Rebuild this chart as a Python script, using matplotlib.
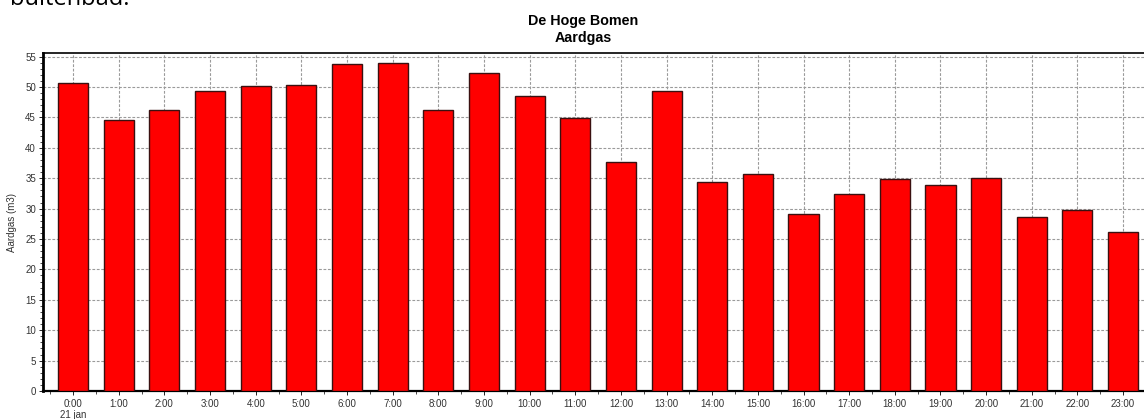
import matplotlib
matplotlib.use('Agg')
import matplotlib.pyplot as plt
from matplotlib.ticker import MultipleLocator

# hourly gas usage
hours = [f'{h}:00' for h in range(24)]
usage = [50.7, 44.6, 46.3, 49.4, 50.2, 50.3, 53.8, 54.0, 46.2, 52.3, 48.5, 44.9,
         37.6, 49.4, 34.3, 35.7, 29.1, 32.4, 34.9, 33.9, 35.1, 28.6, 29.8, 26.2]
tick_labels = [hours[0] + '\n21 jan'] + hours[1:]

W, H = 1144, 419
fig = plt.figure(figsize=(W / 100, H / 100), dpi=100)
plt.rcParams['font.family'] = ['Liberation Sans', 'DejaVu Sans']

# axes in pixel units; the right side runs off the picture like the reference
left, top, bottom = 43, 53, 391
xmin, xmax = -0.66, 24.0
step = 45.65
right = left + (xmax - xmin) * step
ax = fig.add_axes([left / W, 1 - bottom / H, (right - left) / W, (bottom - top) / H])

x = list(range(len(usage)))
ax.bar(x, usage, width=0.66, color='#ff0000', edgecolor='#3a1010', linewidth=1.0, zorder=3)

ax.set_xlim(xmin, xmax)
ax.set_ylim(0, 55.6)
ax.set_xticks(x)
ax.set_xticklabels(tick_labels, fontsize=7, color='#333333', linespacing=1.1)
ax.xaxis.set_minor_locator(MultipleLocator(0.5))
ax.yaxis.set_major_locator(MultipleLocator(5))
ax.yaxis.set_minor_locator(MultipleLocator(1))
ax.tick_params(axis='y', labelsize=7, labelcolor='#333333', length=3, width=0.6, pad=2)
ax.tick_params(axis='x', length=3, width=0.6, pad=3)
ax.tick_params(which='minor', length=2, width=0.5)
for lbl in ax.get_xticklabels():
    lbl.set_multialignment('center')

ax.grid(True, which='major', linestyle=(0, (2.5, 1.5)), color='#9a9a9a', linewidth=0.8, zorder=0)
ax.set_axisbelow(True)

ax.spines['left'].set_linewidth(2.0)
ax.spines['bottom'].set_linewidth(1.6)
ax.spines['top'].set_linewidth(1.2)
ax.spines['right'].set_visible(False)

ax.set_ylabel('Aardgas (m3)', fontsize=7, color='#333333', labelpad=6)

fig.text(583 / W, 1 - 29.5 / H, 'De Hoge Bomen\nAardgas', ha='center', va='center',
         fontsize=10.3, fontweight='bold', linespacing=1.2)

# bit of document text cut off at the top, as in the reference
fig.text(10 / W, 1 - 5 / H, 'buitenbad.', ha='left', va='baseline', fontsize=17,
         family=['Open Sans', 'DejaVu Sans'])

fig.savefig('out.png', dpi=100)
